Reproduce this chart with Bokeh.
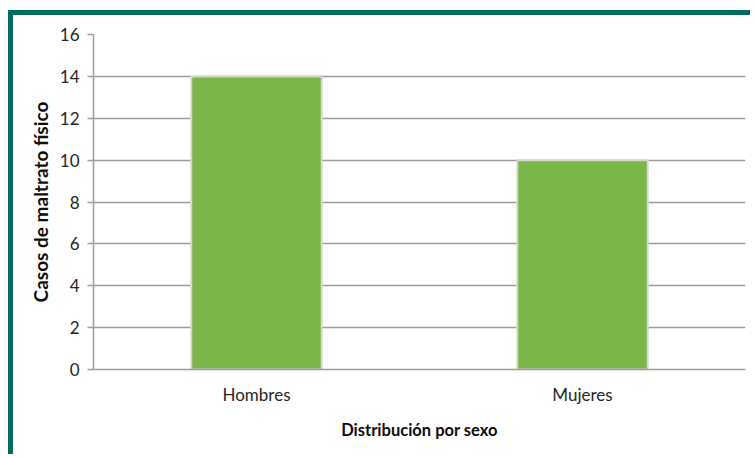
from bokeh.plotting import figure
from bokeh.embed import file_html
from bokeh.resources import INLINE
from bokeh.models import Range1d, FixedTicker

categories = ["Hombres", "Mujeres"]
values = [14, 10]
y_ticks = [0, 2, 4, 6, 8, 10, 12, 14, 16]

p = figure(x_range=categories, y_range=Range1d(0, 16), width=742, height=444,
           output_backend="svg", toolbar_location=None,
           min_border_left=80, min_border_right=10, min_border_top=19, min_border_bottom=90)
p.styles = {"margin-left": "8px", "margin-top": "10px",
            "border-left": "5px solid #006b5b", "border-top": "5px solid #006b5b"}

p.vbar(x=categories, top=values, width=0.4, fill_color="#7ab648",
       line_color="#d6d6d0", line_width=2)

p.outline_line_color = None
p.xgrid.grid_line_color = None
p.ygrid.grid_line_color = "#a09c9c"
p.ygrid.grid_line_width = 1.5
p.yaxis.ticker = FixedTicker(ticks=y_ticks)
p.yaxis.axis_line_color = "#a09c9c"
p.yaxis.axis_line_width = 1.5
p.yaxis.major_tick_line_color = "#a09c9c"
p.yaxis.major_tick_line_width = 1.5
p.yaxis.major_tick_out = 6
p.yaxis.major_tick_in = 0
p.yaxis.minor_tick_line_color = None
p.xaxis.axis_line_color = "#a09c9c"
p.xaxis.axis_line_width = 1.5
p.xaxis.major_tick_line_color = None
p.xaxis.minor_tick_line_color = None

for ax in (p.xaxis, p.yaxis):
    ax.major_label_text_font = "Lato"
    ax.major_label_text_font_size = "17px"
    ax.major_label_text_color = "#262626"
    ax.axis_label_text_font = "Lato"
    ax.axis_label_text_font_style = "bold"
    ax.axis_label_text_color = "#0d0d0d"

p.xaxis.axis_label_text_font_size = "16.5px"
p.yaxis.axis_label_text_font_size = "19px"
p.yaxis.axis_label = "Casos de maltrato físico"
p.xaxis.axis_label = "Distribución por sexo"
p.yaxis.major_label_standoff = 8
p.xaxis.major_label_standoff = 8
p.xaxis.axis_label_standoff = 12
p.yaxis.axis_label_standoff = 5

open("out.html", "w").write(file_html(p, INLINE))
